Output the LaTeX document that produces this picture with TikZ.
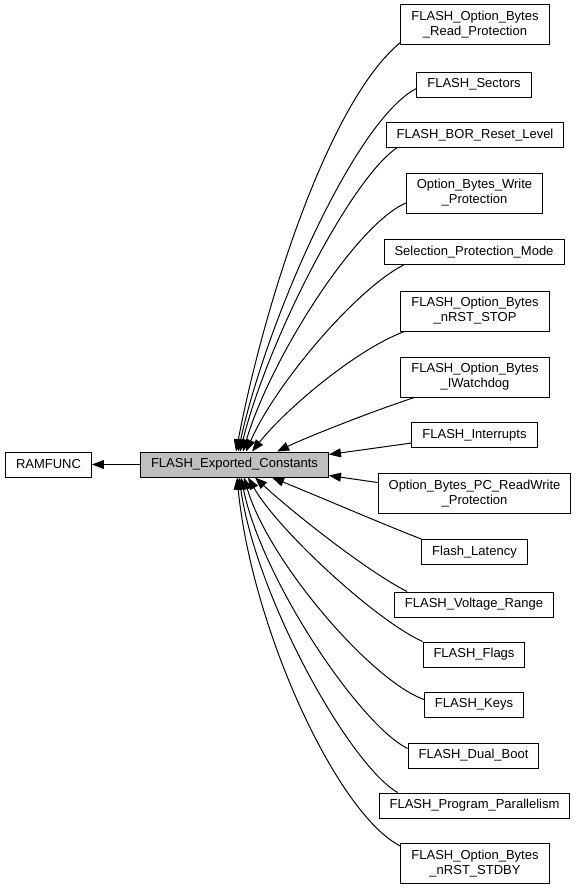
\documentclass[tikz,border=0pt]{standalone}
\usepackage{fontspec}
\setmainfont{Liberation Sans}
\usetikzlibrary{arrows.meta}
\begin{document}
\begin{tikzpicture}[x=1pt,y=1pt,
  box/.style={draw=black,line width=1pt,fill=white,inner xsep=10.5pt,inner ysep=0pt,
    font=\fontsize{13}{15}\selectfont,align=center,minimum height=25pt},
  tbox/.style={box,minimum height=40pt},
  arr/.style={line width=1pt,-{Triangle[length=12pt,width=9pt]}}]
\useasboundingbox (0,0) rectangle (577,-891);
% nodes
\node[box] (ram) at (48.5,-464.5) {RAMFUNC};
\node[box,fill={rgb,255:red,191;green,191;blue,191}] (ec) at (234.5,-464.5) {FLASH\_Exported\_Constants};
\node[tbox] (rp) at (475,-25) {FLASH\_Option\_Bytes\\\_Read\_Protection};
\node[box] (sec) at (474,-84.5) {FLASH\_Sectors};
\node[box] (bor) at (475,-135) {FLASH\_BOR\_Reset\_Level};
\node[tbox] (wp) at (474.5,-193) {Option\_Bytes\_Write\\\_Protection};
\node[box] (sel) at (474,-252) {Selection\_Protection\_Mode};
\node[tbox] (stop) at (475,-311) {FLASH\_Option\_Bytes\\\_nRST\_STOP};
\node[tbox] (iw) at (475,-377) {FLASH\_Option\_Bytes\\\_IWatchdog};
\node[box] (int) at (474.5,-435) {FLASH\_Interrupts};
\node[tbox] (pc) at (474.5,-493.5) {Option\_Bytes\_PC\_ReadWrite\\\_Protection};
\node[box] (lat) at (474.5,-552) {Flash\_Latency};
\node[box] (vol) at (474,-604.5) {FLASH\_Voltage\_Range};
\node[box] (flg) at (474,-654.5) {FLASH\_Flags};
\node[box] (key) at (474,-704.5) {FLASH\_Keys};
\node[box] (db) at (473.5,-755.5) {FLASH\_Dual\_Boot};
\node[box] (pp) at (474.5,-805.5) {FLASH\_Program\_Parallelism};
\node[tbox] (stb) at (475,-863.5) {FLASH\_Option\_Bytes\\\_nRST\_STDBY};
% edges
\draw[arr] (ec) -- (ram);
\draw[arr] ([yshift=3pt]rp.south west) .. controls (330,-100) and (265,-300) .. ([xshift=96pt]ec.north west);
\draw[arr] ([yshift=-4pt]sec.west) .. controls (355,-120) and (267,-320) .. ([xshift=98pt]ec.north west);
\draw[arr] ([xshift=11pt]bor.south west) .. controls (350,-180) and (268,-340) .. ([xshift=100pt]ec.north west);
\draw[arr] ([yshift=-10pt]wp.west) .. controls (355,-225) and (270,-360) .. ([xshift=103pt]ec.north west);
\draw[arr] ([xshift=20pt]sel.south west) .. controls (355,-290) and (275,-385) .. ([xshift=106pt]ec.north west);
\draw[arr] ([xshift=4pt]stop.south west) .. controls (355,-350) and (285,-410) .. ([xshift=112pt]ec.north west);
\draw[arr] ([xshift=14pt]iw.south west) .. controls (370,-412) and (305,-438) .. ([xshift=137pt]ec.north west);
\draw[arr] ([yshift=-8pt]int.west) -- ([yshift=-3pt]ec.north east);
\draw[arr] ([yshift=11pt]pc.west) -- ([yshift=2pt]ec.south east);
\draw[arr] (lat.north west) .. controls (385,-525) and (315,-495) .. ([xshift=132pt]ec.south west);
\draw[arr] ([xshift=13pt]vol.north west) .. controls (365,-570) and (290,-510) .. ([xshift=115pt]ec.south west);
\draw[arr] (flg.north west) .. controls (375,-620) and (278,-530) .. ([xshift=108pt]ec.south west);
\draw[arr] ([yshift=5pt]key.west) .. controls (370,-680) and (268,-560) .. ([xshift=104pt]ec.south west);
\draw[arr] ([yshift=7pt]db.west) .. controls (360,-725) and (262,-580) .. ([xshift=101pt]ec.south west);
\draw[arr] ([xshift=19pt]pp.north west) .. controls (350,-765) and (257,-600) .. ([xshift=99pt]ec.south west);
\draw[arr] ([yshift=-3pt]stb.north west) .. controls (338,-815) and (252,-630) .. ([xshift=97pt]ec.south west);
\end{tikzpicture}
\end{document}
